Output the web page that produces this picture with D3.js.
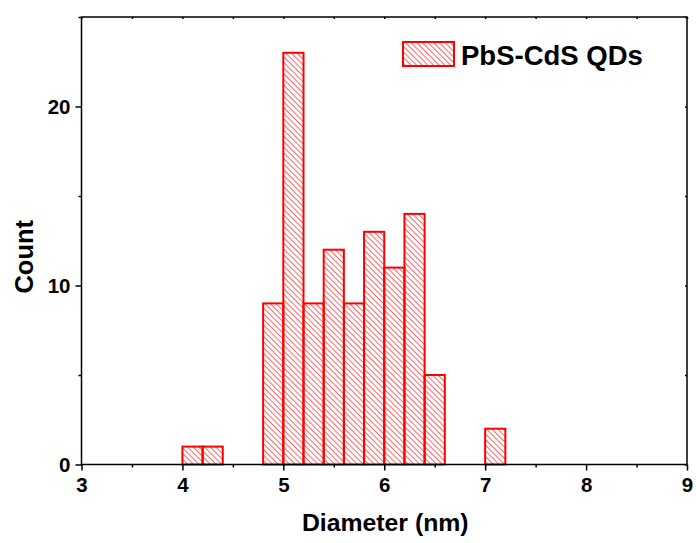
<!DOCTYPE html>
<html>
<head>
<meta charset="utf-8">
<script src="https://cdn.jsdelivr.net/npm/d3@7"></script>
<style>
  body { margin: 0; background: #fff; }
  svg text { font-family: "Liberation Sans", Arial, sans-serif; font-weight: bold; fill: #000; }
</style>
</head>
<body>
<svg width="696" height="543"></svg>
<script>
'use strict';
// bin edges (nm) and counts
var binStart = [4.0, 4.2, 4.8, 5.0, 5.2, 5.4, 5.6, 5.8, 6.0, 6.2, 6.4, 7.0];
var counts = [1, 1, 9, 23, 9, 12, 9, 13, 11, 14, 5, 2];
var binWidth = 0.2;
var xTicks = [3, 4, 5, 6, 7, 8, 9];
var yTicks = [0, 10, 20];
var seriesName = 'PbS-CdS QDs';

(() => {
  var svg = d3.select('svg');
  var pLeft = 81.5, pRight = 687, pTop = 17, pBottom = 464.5;
  var red = '#ff0000';

  var x = d3.scaleLinear().domain([3, 9]).range([pLeft, pRight]);
  var y = d3.scaleLinear().domain([0, 25]).range([pBottom, pTop]);

  var pat = svg.append('defs').append('pattern')
    .attr('id', 'hatch')
    .attr('patternUnits', 'userSpaceOnUse')
    .attr('width', 4).attr('height', 4)
    .attr('patternTransform', 'rotate(-45)');
  pat.append('line')
    .attr('x1', 0).attr('y1', 0).attr('x2', 0).attr('y2', 4)
    .attr('stroke', red).attr('stroke-width', 1.2);

  // bars
  svg.append('g').selectAll('rect').data(binStart)
    .enter().append('rect')
      .attr('x', d => x(d))
      .attr('y', (d, i) => y(counts[i]))
      .attr('width', d => x(d + binWidth) - x(d))
      .attr('height', (d, i) => y(0) - y(counts[i]))
      .attr('fill', 'url(#hatch)')
      .attr('stroke', red)
      .attr('stroke-width', 2);

  // axes
  var minorX = d3.range(3.5, 9, 1);
  var minorY = [5, 15, 25];

  var xb = svg.append('g').attr('transform', `translate(0,${pBottom})`)
    .call(d3.axisBottom(x).tickValues(xTicks).tickSize(6).tickPadding(7).tickFormat(d3.format('d')));
  xb.append('g').call(d3.axisBottom(x).tickValues(minorX).tickSize(3).tickFormat(''));

  var yl = svg.append('g').attr('transform', `translate(${pLeft},0)`)
    .call(d3.axisLeft(y).tickValues(yTicks).tickSize(6).tickPadding(5).tickFormat(d3.format('d')));
  yl.append('g').call(d3.axisLeft(y).tickValues(minorY).tickSize(3).tickFormat(''));

  svg.append('g').attr('transform', `translate(0,${pTop})`)
    .call(d3.axisBottom(x).tickValues(xTicks.concat(minorX)).tickSize(2).tickFormat(''));
  svg.append('g').attr('transform', `translate(${pRight},0)`)
    .call(d3.axisLeft(y).tickValues(yTicks.concat(minorY)).tickSize(2).tickFormat(''));

  svg.selectAll('.domain').remove();
  svg.selectAll('.tick line').attr('stroke', '#000').attr('stroke-width', 1.5);
  svg.selectAll('.tick text').style('font-size', '20.5px').attr('fill', '#000');

  svg.append('rect')
    .attr('x', pLeft).attr('y', pTop)
    .attr('width', pRight - pLeft).attr('height', pBottom - pTop)
    .attr('fill', 'none').attr('stroke', '#000').attr('stroke-width', 1.5);

  // titles
  svg.append('text')
    .attr('x', (pLeft + pRight) / 2 + 1).attr('y', 531)
    .attr('text-anchor', 'middle').style('font-size', '24.8px')
    .text('Diameter (nm)');
  svg.append('text')
    .attr('transform', `translate(33,${(pTop + pBottom) / 2 + 16}) rotate(-90)`)
    .attr('text-anchor', 'middle').style('font-size', '25.5px')
    .text('Count');

  // legend
  svg.append('rect')
    .attr('x', 403).attr('y', 42).attr('width', 51).attr('height', 24)
    .attr('fill', 'url(#hatch)').attr('stroke', red).attr('stroke-width', 2);
  svg.append('text')
    .attr('x', 461).attr('y', 64.5).style('font-size', '27.5px')
    .text(seriesName);
})();
</script>
</body>
</html>
